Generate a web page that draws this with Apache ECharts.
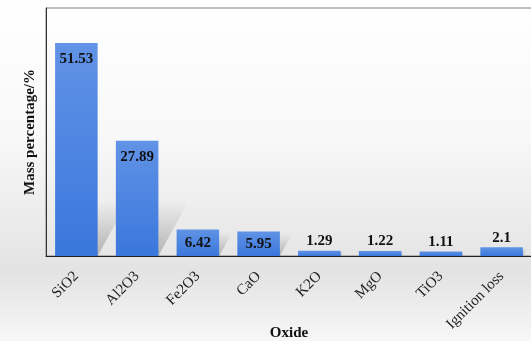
<!DOCTYPE html>
<html>
<head>
<meta charset="utf-8">
<script src="https://cdn.jsdelivr.net/npm/echarts@6/dist/echarts.min.js"></script>
<style>
  html, body { margin: 0; padding: 0; }
  #chart { width: 531px; height: 341px; }
</style>
</head>
<body>
<div id="chart"></div>
<script>
// Oxide composition (mass %)
const oxides = ['SiO2', 'Al2O3', 'Fe2O3', 'CaO', 'K2O', 'MgO', 'TiO3', 'Ignition loss'];
const massPercent = [51.53, 27.89, 6.42, 5.95, 1.29, 1.22, 1.11, 2.1];

const serif = '"Liberation Serif", "Times New Roman", serif';

// label placement by bar height: tall bars carry the value inside the top,
// mid bars in the middle, short bars just above
function labelFor(v) {
  if (v >= 20) return { position: 'insideTop', distance: 9 };
  if (v >= 4) return { position: 'inside' };
  return { position: 'top', distance: 2 };
}

const barData = massPercent.map(v => ({ value: v, label: labelFor(v) }));
const shadowData = massPercent.map((v, i) => [i, v]);

const chart = echarts.init(document.getElementById('chart'));
chart.setOption({
  animation: false,
  backgroundColor: new echarts.graphic.LinearGradient(0, 0, 0, 1, [
    { offset: 0, color: '#ffffff' },
    { offset: 0.4, color: '#f8f8f8' },
    { offset: 0.8, color: '#e3e3e3' },
    { offset: 1, color: '#f7f7f7' }
  ]),
  grid: {
    left: 46, right: -1, top: 8, bottom: 85,
    outerBoundsMode: 'none',
    containLabel: false,
    show: true, borderColor: '#808080', borderWidth: 1,
    backgroundColor: 'transparent'
  },
  xAxis: {
    type: 'category',
    data: oxides,
    name: 'Oxide',
    nameLocation: 'middle',
    nameGap: 70,
    nameMoveOverlap: false,
    nameTextStyle: { fontFamily: serif, fontWeight: 'bold', fontSize: 15, color: '#111' },
    axisLine: { lineStyle: { color: '#222', width: 1 } },
    axisTick: { show: false },
    axisLabel: {
      rotate: 45, margin: 18, interval: 0,
      fontFamily: serif, fontSize: 15, color: '#222'
    }
  },
  yAxis: {
    type: 'value',
    min: 0, max: 60,
    name: 'Mass percentage/%',
    nameLocation: 'middle',
    nameGap: 8,
    nameMoveOverlap: false,
    nameTextStyle: { fontFamily: serif, fontWeight: 'bold', fontSize: 15, color: '#111' },
    axisLine: { show: true, lineStyle: { color: '#333', width: 1 } },
    axisTick: { show: false },
    axisLabel: { show: false },
    splitLine: { show: false }
  },
  series: [
    {
      // skewed drop shadows behind the bars
      type: 'custom',
      z: 1,
      silent: true,
      data: shadowData,
      renderItem: function (params, api) {
        const top = api.coord([api.value(0), api.value(1)]);
        const base = api.coord([api.value(0), 0]);
        const w = api.size([1, 0])[0] * 0.7;
        const x0 = base[0] - w / 2, x1 = base[0] + w / 2, yb = base[1];
        const h = yb - top[1];
        const hs = Math.min(h * 0.9, 55);
        const dx = hs * 0.55;
        return {
          type: 'polygon',
          shape: { points: [[x0, yb], [x1, yb], [x1 + dx, yb - hs], [x0 + dx, yb - hs]] },
          style: {
            fill: new echarts.graphic.LinearGradient(0, 0, 0, 1, [
              { offset: 0, color: 'rgba(0,0,0,0)' },
              { offset: 1, color: 'rgba(0,0,0,0.22)' }
            ])
          }
        };
      }
    },
    {
      type: 'bar',
      z: 2,
      barWidth: '70%',
      data: barData,
      itemStyle: {
        color: new echarts.graphic.LinearGradient(0, 0, 0, 1, [
          { offset: 0, color: '#6193e6' },
          { offset: 1, color: '#3a77dc' }
        ])
      },
      label: {
        show: true,
        fontFamily: serif, fontWeight: 'bold', fontSize: 15, color: '#111'
      }
    }
  ]
});
</script>
</body>
</html>
